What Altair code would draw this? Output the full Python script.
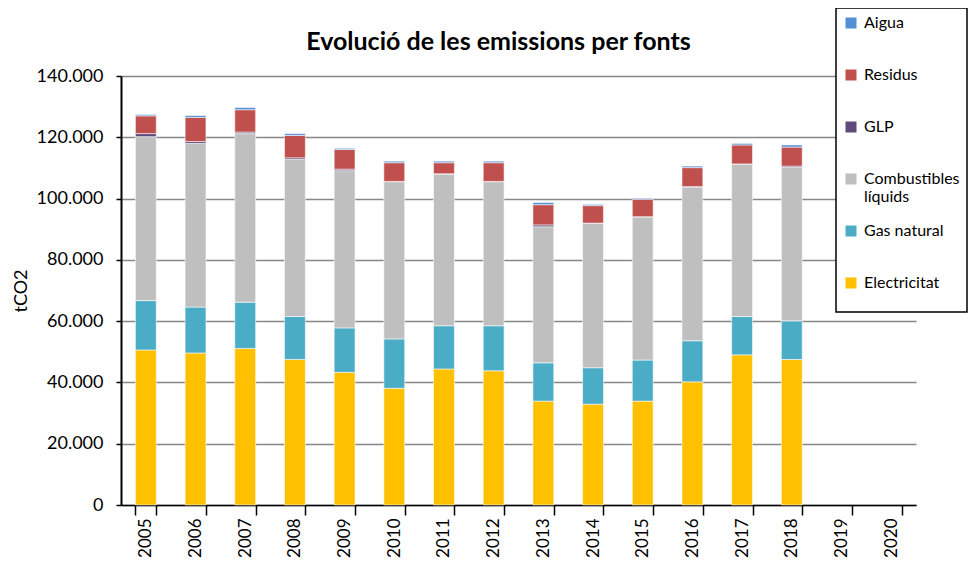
import altair as alt
import pandas as pd

years = [str(y) for y in range(2005, 2021)]
sources = ["Electricitat", "Gas natural", "Combustibles líquids", "GLP", "Residus", "Aigua"]
colors = ["#FFC000", "#4BACC6", "#BFBFBF", "#604A7B", "#C0504D", "#558ED5"]

electricitat = [50.6, 49.6, 51.1, 47.5, 43.3, 38.1, 44.4, 43.8, 33.9, 32.9, 33.9, 40.2, 49.0, 47.5, None, None]
gas_natural = [16.1, 15.0, 15.1, 14.0, 14.5, 16.1, 14.1, 14.7, 12.5, 11.9, 13.4, 13.4, 12.5, 12.6, None, None]
combustibles = [53.5, 53.4, 55.0, 51.3, 51.3, 51.3, 49.5, 47.0, 44.4, 47.1, 46.7, 50.2, 49.7, 50.1, None, None]
glp = [1.0, 0.6, 0.5, 0.5, 0.5, 0.1, 0.1, 0.1, 0.6, 0.1, 0.1, 0.1, 0.1, 0.4, None, None]
residus = [5.8, 7.9, 7.3, 7.3, 6.4, 6.1, 3.6, 6.1, 6.6, 5.7, 5.7, 6.2, 6.2, 6.2, None, None]
aigua = [0.4, 0.6, 0.7, 0.6, 0.4, 0.5, 0.5, 0.5, 0.7, 0.4, 0.3, 0.5, 0.5, 0.7, None, None]

series = [electricitat, gas_natural, combustibles, glp, residus, aigua]

rows = []
for si, (name, vals) in enumerate(zip(sources, series)):
    for y, v in zip(years, vals):
        if v is not None:
            rows.append({"Any": y, "Font": name, "tCO2": v * 1000, "ordre": si})
df = pd.DataFrame(rows)

FONT = "Lato"
legend_order = list(reversed(sources))
legend_colors = list(reversed(colors))

chart = alt.Chart(df).mark_bar(stroke="white", strokeWidth=0.8, strokeOpacity=0.7).encode(
    x=alt.X("Any:N", sort=years,
            scale=alt.Scale(domain=years, paddingInner=0.58, paddingOuter=0.29),
            axis=alt.Axis(title=None, labelAngle=270, labelAlign="right", labelBaseline="middle",
                          labelFontSize=17, labelColor="black", labelPadding=3,
                          tickBand="extent", tickSize=10, tickColor="black", tickWidth=1.5,
                          domainColor="black", domainWidth=1.5, labelFont=FONT)),
    y=alt.Y("sum(tCO2):Q", stack="zero",
            scale=alt.Scale(domain=[0, 140000], nice=False),
            axis=alt.Axis(title="tCO2", values=list(range(0, 140001, 20000)),
                          labelExpr="replace(format(datum.value, ','), ',', '.')",
                          labelFontSize=18, labelColor="black", labelFont=FONT,
                          titleFontSize=18, titleFont=FONT, titleFontWeight="normal", titleColor="black",
                          titlePadding=6,
                          grid=True, gridColor="#878787", gridWidth=1.5,
                          domainColor="black", domainWidth=2,
                          tickColor="black", tickSize=5, tickWidth=1.5, labelPadding=13)),
    color=alt.Color("Font:N",
                    scale=alt.Scale(domain=legend_order, range=legend_colors),
                    legend=alt.Legend(orient="none", legendX=715, legendY=-68, title=" ",
                                      titleOrient="bottom", titleFontSize=1, titlePadding=13,
                                      fillColor="white", strokeColor="black",
                                      padding=7, symbolType="square", symbolSize=121,
                                      symbolStrokeWidth=0, symbolOpacity=1,
                                      labelFontSize=16, labelFont=FONT, labelColor="black",
                                      gridAlign="all", rowPadding=18, labelOffset=5,
                                      labelExpr="datum.label == 'Combustibles líquids' ? ['Combustibles', 'líquids'] : datum.label")),
    order=alt.Order("ordre:Q", sort="ascending"),
).properties(
    width=795, height=429,
    title=alt.TitleParams("Evolució de les emissions per fonts", fontSize=25, font=FONT,
                          fontWeight="bold", color="black", anchor="middle", dx=-20, dy=48, offset=0),
    autosize=alt.AutoSizeParams(type="none"),
    padding={"left": 113, "top": 68, "right": 54, "bottom": 56},
).configure_view(stroke=None).configure_legend(strokeWidth=1.5)

chart.save("out.html", embed_options={"renderer": "svg", "actions": False})
